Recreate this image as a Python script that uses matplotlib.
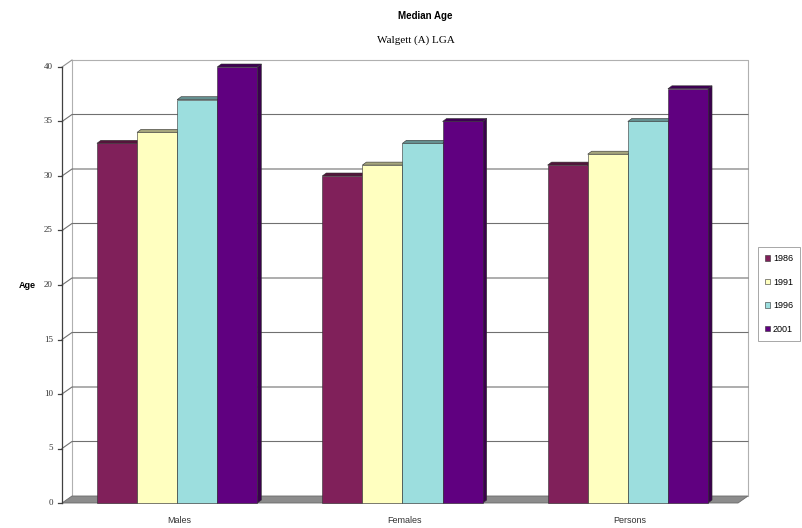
import matplotlib
matplotlib.use("Agg")
import matplotlib.pyplot as plt
from matplotlib.patches import Polygon, Patch
import numpy as np

categories = ["Males", "Females", "Persons"]
years = ["1986", "1991", "1996", "2001"]
values = {
    "1986": [33, 30, 31],
    "1991": [34, 31, 32],
    "1996": [37, 33, 35],
    "2001": [40, 35, 38],
}
colors = ["#80205A", "#FFFFC0", "#9CDEDE", "#600080"]
yticks = [0, 5, 10, 15, 20, 25, 30, 35, 40]

W, H = 803, 528
fig = plt.figure(figsize=(W / 100, H / 100), dpi=100)
fig.patch.set_facecolor("white")

# front plane of the axes in pixels
px_l, px_r, py_b, py_t = 62, 738, 503, 67
ax = fig.add_axes([px_l / W, 1 - py_b / H, (px_r - px_l) / W, (py_b - py_t) / H])
ax.set_xlim(0, 3)
ax.set_ylim(0, 40)
ax.axis("off")

xu = 3 / (px_r - px_l)        # data units per pixel (x)
yu = 40 / (py_b - py_t)       # data units per pixel (y)
wdx, wdy = 10 * xu, 7 * yu    # wall depth offset
bdx, bdy = 4 * xu, 3 * yu     # bar depth offset

# back wall outline
ax.plot([wdx, wdx, 3 + wdx, 3 + wdx], [wdy, 40 + wdy, 40 + wdy, wdy],
        color="#B0B0B0", lw=0.8, clip_on=False, zorder=1)
# gridlines on back wall + diagonal on left wall
for t in yticks[1:-1]:
    ax.plot([0, wdx, 3 + wdx], [t, t + wdy, t + wdy], color="#707070",
            lw=0.8, clip_on=False, zorder=1)
ax.plot([0, wdx], [40, 40 + wdy], color="#909090", lw=0.8, clip_on=False, zorder=1)
# floor
floor = Polygon([(0, 0), (3, 0), (3 + wdx, wdy), (wdx, wdy)], closed=True,
                facecolor="#8C8C8C", edgecolor="#6A6A6A", lw=0.6,
                clip_on=False, zorder=2)
ax.add_patch(floor)

# left axis
ax.plot([0, 0], [0, 40], color="#404040", lw=0.9, clip_on=False, zorder=3)
for t in yticks:
    ax.plot([-4 * xu, 0], [t, t], color="#404040", lw=0.9, clip_on=False, zorder=3)
    ax.text(-9 * xu, t, str(t), ha="right", va="center", fontsize=6.5,
            family="Liberation Serif", color="#333333")


def shade(c, f):
    rgb = np.array(matplotlib.colors.to_rgb(c))
    return tuple(rgb * f)


bw = 0.178
start = 0.155
z = 4
for ci, cat in enumerate(categories):
    for yi, yr in enumerate(years):
        v = values[yr][ci]
        x0 = ci + start + yi * bw
        x1 = x0 + bw
        c = colors[yi]
        side = Polygon([(x1, 0), (x1 + bdx, bdy), (x1 + bdx, v + bdy), (x1, v)],
                       closed=True, facecolor=shade(c, 0.6), edgecolor="#303030",
                       lw=0.4, zorder=z, clip_on=False)
        top = Polygon([(x0, v), (x0 + bdx, v + bdy), (x1 + bdx, v + bdy), (x1, v)],
                      closed=True, facecolor=shade(c, 0.65), edgecolor="#303030",
                      lw=0.4, zorder=z, clip_on=False)
        front = Polygon([(x0, 0), (x1, 0), (x1, v), (x0, v)], closed=True,
                        facecolor=c, edgecolor="#303030", lw=0.4, zorder=z + 0.5,
                        clip_on=False)
        ax.add_patch(side)
        ax.add_patch(top)
        ax.add_patch(front)
        z += 1
    ax.text(ci + 0.52, -1.2, cat, ha="center", va="top", fontsize=6.5,
            family="Liberation Sans", color="#333333")

# titles
fig.text(425 / W, 1 - 16 / H, "Median Age", ha="center", va="center",
         fontsize=7, fontweight="bold", family="Liberation Sans")
fig.text(416 / W, 1 - 40 / H, "Walgett (A) LGA", ha="center", va="center",
         fontsize=8, family="Liberation Serif")
fig.text(27 / W, 1 - 285 / H, "Age", ha="center", va="center",
         fontsize=6.5, fontweight="bold", family="Liberation Sans")

# legend
handles = [Patch(facecolor=c, edgecolor="#303030", lw=0.4) for c in colors]
leg = fig.legend(handles, years, loc="center left",
                 bbox_to_anchor=(753 / W, 1 - 294 / H),
                 handlelength=0.6, handleheight=0.6, handletextpad=0.3,
                 labelspacing=1.6, borderpad=0.8, frameon=True, fancybox=False,
                 prop={"family": "Liberation Sans", "size": 6.5})
leg.get_frame().set_edgecolor("#909090")
leg.get_frame().set_linewidth(0.7)

fig.savefig("out.png", dpi=100, facecolor="white")
